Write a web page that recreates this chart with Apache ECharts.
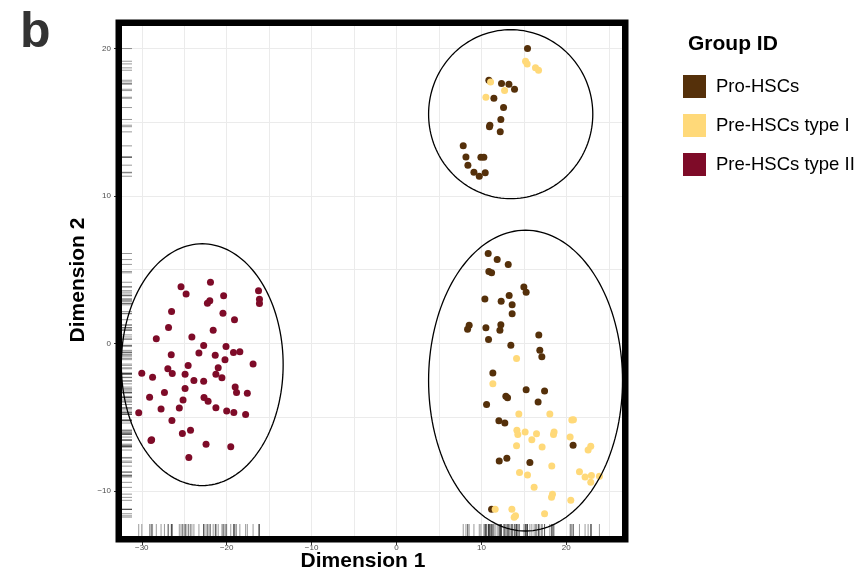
<!DOCTYPE html>
<html>
<head>
<meta charset="utf-8">
<script src="https://cdn.jsdelivr.net/npm/echarts@6/dist/echarts.min.js"></script>
<style>
  html, body { margin: 0; padding: 0; background: #ffffff; }
  #chart { width: 859px; height: 572px; }
</style>
</head>
<body>
<div id="chart"></div>
<script>
// Group names and colours
const groupNames = ['Pro-HSCs', 'Pre-HSCs type I', 'Pre-HSCs type II'];
const groupColors = ['#55300a', '#ffd979', '#7e0b28'];

// Cells per group: [Dimension 1, Dimension 2]
const proHSCs = [
  [15.43, 20.0], [10.88, 17.85], [12.37, 17.63], [13.24, 17.58], [13.9, 17.24],
  [11.47, 16.63], [12.61, 16.0], [12.29, 15.19], [11.0, 14.8], [10.95, 14.7],
  [12.22, 14.35], [7.86, 13.4], [8.18, 12.65], [9.94, 12.63], [10.29, 12.63],
  [8.41, 12.09], [9.12, 11.61], [9.75, 11.34], [10.45, 11.57],
  [10.8, 6.1], [11.86, 5.69], [13.16, 5.36], [10.88, 4.88], [11.2, 4.79],
  [15.0, 3.82], [15.27, 3.48], [10.41, 3.02], [12.33, 2.87], [13.27, 3.25],
  [13.62, 2.62], [13.62, 2.01], [8.56, 1.24], [8.37, 0.97], [10.53, 1.06],
  [12.29, 1.26], [12.18, 0.9], [10.84, 0.27], [16.76, 0.58], [13.47, -0.12],
  [16.88, -0.47], [17.12, -0.91], [11.35, -2.01], [15.27, -3.14], [17.44, -3.23],
  [12.88, -3.59], [13.08, -3.69], [16.68, -3.98], [10.61, -4.14], [12.06, -5.25],
  [12.76, -5.4], [20.8, -6.9], [12.1, -7.98], [13.0, -7.78], [15.71, -8.07],
  [11.2, -11.25]
];

const preTypeI = [
  [15.2, 19.14], [15.39, 18.96], [16.37, 18.69], [16.73, 18.53], [11.08, 17.74],
  [12.73, 17.15], [10.53, 16.7],
  [14.14, -1.02], [11.35, -2.74], [14.41, -4.79], [18.06, -4.79], [20.65, -5.2],
  [20.84, -5.18], [14.18, -5.88], [14.29, -6.17], [15.15, -6.01], [16.49, -6.13],
  [15.94, -6.54], [18.56, -6.01], [18.49, -6.17], [20.45, -6.35], [14.14, -6.94],
  [17.15, -7.03], [22.88, -6.98], [22.57, -7.23], [18.29, -8.32], [14.49, -8.75],
  [15.43, -8.93], [21.55, -8.7], [22.21, -9.06], [22.96, -8.95], [23.9, -9.0],
  [22.88, -9.42], [16.21, -9.76], [18.37, -10.22], [18.26, -10.44], [20.53, -10.64],
  [11.62, -11.25], [13.59, -11.25], [14.02, -11.69], [13.86, -11.78], [17.44, -11.55]
];

const preTypeII = [
  [-25.38, 3.85], [-21.91, 4.15], [-24.78, 3.35], [-16.25, 3.58], [-16.14, 3.0],
  [-16.14, 2.71], [-20.36, 3.23], [-21.99, 2.89], [-22.27, 2.73], [-26.49, 2.16],
  [-20.44, 2.04], [-19.08, 1.61], [-26.85, 1.08], [-21.59, 0.89], [-28.29, 0.32],
  [-24.1, 0.44], [-22.71, -0.14], [-20.08, -0.21], [-23.27, -0.64], [-26.53, -0.76],
  [-21.35, -0.8], [-19.2, -0.62], [-18.45, -0.57], [-20.2, -1.1], [-24.54, -1.49],
  [-16.89, -1.4], [-21.0, -1.65], [-26.93, -1.72], [-30.0, -2.02], [-26.41, -2.04],
  [-24.9, -2.09], [-21.27, -2.09], [-28.73, -2.29], [-20.56, -2.32], [-23.86, -2.52],
  [-22.71, -2.57], [-24.9, -3.05], [-19.0, -2.96], [-18.84, -3.33], [-17.57, -3.37],
  [-27.33, -3.33], [-29.08, -3.65], [-25.14, -3.83], [-22.67, -3.67], [-22.19, -3.92],
  [-27.73, -4.45], [-25.58, -4.38], [-21.27, -4.36], [-30.36, -4.7], [-20.0, -4.59],
  [-19.16, -4.68], [-17.77, -4.82], [-26.45, -5.23], [-25.22, -6.1], [-24.26, -5.89],
  [-28.84, -6.54], [-28.92, -6.58], [-22.43, -6.83], [-19.52, -7.0], [-24.46, -7.73]
];

// Cluster ellipses: [centre x, centre y, radius x, radius y]
const clusterEllipses = [
  [-22.88, -1.44, 9.53, 8.2],
  [13.45, 15.55, 9.67, 5.73],
  [15.2, -2.52, 11.42, 10.2]
];

// Axis ranges, labelled ticks and grid positions
const xRange = [-32.33, 26.56];
const yRange = [-13.06, 21.53];
const xTicks = [-30, -20, -10, 0, 10, 20];
const yTicks = [-10, 0, 10, 20];
const xGridLines = [-30, -25, -20, -15, -10, -5, 0, 5, 10, 15, 20, 25];
const yGridLines = [-10, -5, 0, 5, 10, 15, 20];

const allCells = proHSCs.concat(preTypeI, preTypeII);

const FONT = '"Liberation Sans", Arial, Helvetica, sans-serif';
const gridBox = { left: 122, top: 26, width: 500, height: 510 };
const borderW = 6.5;

const fmtTick = v => (v < 0 ? '\u2212' + Math.abs(v) : String(v));

const chart = echarts.init(document.getElementById('chart'), null, { renderer: 'canvas' });

const groupSeries = [proHSCs, preTypeI, preTypeII].map((pts, i) => ({
  name: groupNames[i],
  type: 'scatter',
  xAxisIndex: 0,
  yAxisIndex: 0,
  data: pts,
  symbol: 'circle',
  symbolSize: 7,
  itemStyle: { color: groupColors[i], opacity: 1 },
  emphasis: { disabled: true },
  z: 3
}));

const option = {
  backgroundColor: '#ffffff',
  animation: false,
  grid: Object.assign({ containLabel: false, show: false }, gridBox),
  xAxis: [
    {
      type: 'value', min: xRange[0], max: xRange[1], position: 'bottom',
      axisLine: { show: false, onZero: false },
      axisTick: { show: true, length: 9, customValues: xTicks, lineStyle: { color: '#333333', width: 1 } },
      axisLabel: { show: true, customValues: xTicks, formatter: fmtTick, color: '#4d4d4d', fontSize: 8, fontFamily: FONT, margin: 8 },
      splitLine: { show: false }
    },
    {
      type: 'value', min: xRange[0], max: xRange[1], position: 'top',
      axisLine: { show: false, onZero: false },
      axisTick: { show: false, customValues: xGridLines },
      axisLabel: { show: false },
      splitLine: { show: true, lineStyle: { color: '#ebebeb', width: 1 } }
    }
  ],
  yAxis: [
    {
      type: 'value', min: yRange[0], max: yRange[1], position: 'left',
      axisLine: { show: false, onZero: false },
      axisTick: { show: true, length: 8, customValues: yTicks, lineStyle: { color: '#333333', width: 1 } },
      axisLabel: { show: true, customValues: yTicks, formatter: fmtTick, color: '#4d4d4d', fontSize: 8, fontFamily: FONT, margin: 11 },
      splitLine: { show: false }
    },
    {
      type: 'value', min: yRange[0], max: yRange[1], position: 'right',
      axisLine: { show: false, onZero: false },
      axisTick: { show: false, customValues: yGridLines },
      axisLabel: { show: false },
      splitLine: { show: true, lineStyle: { color: '#ebebeb', width: 1 } }
    }
  ],
  legend: {
    data: groupNames,
    orient: 'vertical',
    left: 683,
    top: 75,
    padding: 0,
    icon: 'rect',
    itemWidth: 23,
    itemHeight: 23,
    itemGap: 16,
    selectedMode: false,
    textStyle: { fontSize: 18.5, color: '#000000', fontFamily: FONT, padding: [0, 0, 0, 5] }
  },
  graphic: [
    {
      type: 'text', left: 20, top: 8, z: 10,
      style: { text: 'b', font: 'bold 50px ' + FONT, fill: '#333333' }
    },
    {
      type: 'text', x: 688, y: 44, z: 10,
      style: { text: 'Group ID', font: 'bold 21px ' + FONT, fill: '#000000', align: 'left', verticalAlign: 'middle' }
    },
    {
      type: 'text', x: 363, y: 561.5, z: 10,
      style: { text: 'Dimension 1', font: 'bold 21px ' + FONT, fill: '#000000', align: 'center', verticalAlign: 'middle' }
    },
    {
      type: 'text', x: 78, y: 280, rotation: Math.PI / 2, z: 10,
      style: { text: 'Dimension 2', font: 'bold 21px ' + FONT, fill: '#000000', align: 'center', verticalAlign: 'middle' }
    },
    {
      // heavy panel frame
      type: 'rect', z: 20, silent: true,
      shape: {
        x: gridBox.left - borderW / 2,
        y: gridBox.top - borderW / 2,
        width: gridBox.width + borderW,
        height: gridBox.height + borderW
      },
      style: { fill: 'none', stroke: '#000000', lineWidth: borderW }
    }
  ],
  series: [
    // rug along the bottom edge
    {
      type: 'custom',
      xAxisIndex: 0, yAxisIndex: 0,
      data: allCells,
      silent: true,
      z: 2,
      renderItem: function (params, api) {
        const p = api.coord([api.value(0), api.value(1)]);
        const cs = params.coordSys;
        const yb = cs.y + cs.height;
        return {
          type: 'line',
          shape: { x1: p[0], y1: yb, x2: p[0], y2: yb - 12 },
          style: { stroke: 'rgba(0,0,0,0.4)', lineWidth: 1 }
        };
      }
    },
    // rug along the left edge
    {
      type: 'custom',
      xAxisIndex: 0, yAxisIndex: 0,
      data: allCells,
      silent: true,
      z: 2,
      renderItem: function (params, api) {
        const p = api.coord([api.value(0), api.value(1)]);
        const cs = params.coordSys;
        return {
          type: 'line',
          shape: { x1: cs.x, y1: p[1], x2: cs.x + 10, y2: p[1] },
          style: { stroke: 'rgba(0,0,0,0.4)', lineWidth: 1 }
        };
      }
    }
  ].concat(groupSeries, [
    // cluster ellipses
    {
      type: 'custom',
      xAxisIndex: 0, yAxisIndex: 0,
      data: clusterEllipses,
      silent: true,
      z: 4,
      renderItem: function (params, api) {
        const c = api.coord([api.value(0), api.value(1)]);
        const s = api.size([api.value(2), api.value(3)]);
        const pts = [];
        const n = 160;
        for (let i = 0; i < n; i++) {
          const t = (i / n) * Math.PI * 2;
          pts.push([c[0] + s[0] * Math.cos(t), c[1] + s[1] * Math.sin(t)]);
        }
        return {
          type: 'polygon',
          shape: { points: pts },
          style: { fill: 'none', stroke: '#000000', lineWidth: 1.3 }
        };
      }
    }
  ])
};

chart.setOption(option);
</script>
</body>
</html>
